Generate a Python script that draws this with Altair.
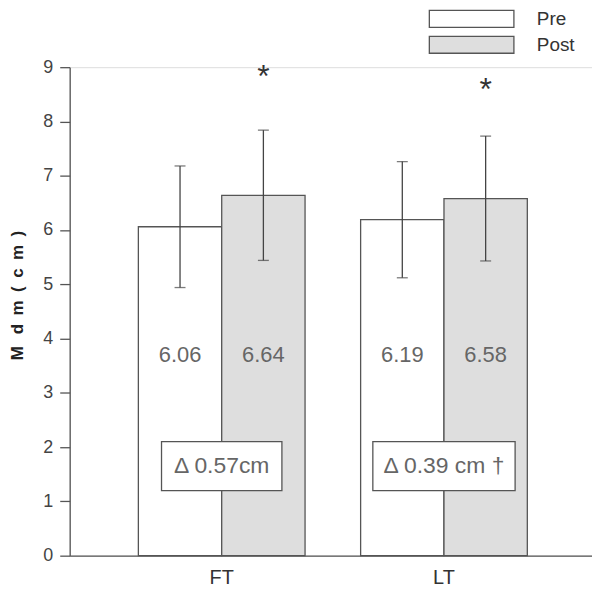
import altair as alt
import pandas as pd

categories = ["FT", "LT"]
phases = ["Pre", "Post"]
pre_means = [6.06, 6.19]
post_means = [6.64, 6.58]
pre_sd = [1.12, 1.07]
post_sd = [1.20, 1.15]
star_y = [8.85, 8.62]
delta_labels = ["\u0394 0.57cm", "\u0394 0.39 cm \u2020"]
delta_box = [1.2, 2.1]
delta_text_y = 1.65
value_label_y = 3.7
y_title = "M\u2002\u2009d\u2002m\u2002(\u2002c\u2002m\u2002)"

# style
box_widths_px = [121, 143]
FONT = "Liberation Sans"
GREY = "#555555"

rows = []
for i, c in enumerate(categories):
    for p, m, s in (("Pre", pre_means[i], pre_sd[i]), ("Post", post_means[i], post_sd[i])):
        rows.append({"cat": c, "phase": p, "mean": m, "lo": m - s, "hi": m + s,
                     "label": f"{m:.2f}", "ly": value_label_y})
df = pd.DataFrame(rows)

stars = pd.DataFrame({"cat": categories, "phase": ["Post", "Post"], "y": star_y, "t": ["*", "*"]})
boxes = pd.DataFrame({"cat": categories, "y0": [delta_box[0]] * 2, "y1": [delta_box[1]] * 2,
                      "w": box_widths_px, "t": delta_labels, "ty": [delta_text_y] * 2})

xenc = alt.X("cat:N", sort=categories, title=None,
             scale=alt.Scale(paddingInner=0.25, paddingOuter=0.3, align=0.515),
             axis=alt.Axis(labelAngle=0, ticks=False, labelPadding=12, labelFontSize=20,
                           labelFont=FONT, labelColor="#333333", domainColor=GREY,
                           domainWidth=1.3))
xoff = alt.XOffset("phase:N", sort=phases, scale=alt.Scale(paddingInner=0, paddingOuter=0))
yscale = alt.Scale(domain=[0, 9], nice=False)

bars = alt.Chart(df).mark_bar(stroke=GREY, strokeWidth=1.3).encode(
    x=xenc,
    xOffset=xoff,
    y=alt.Y("mean:Q", scale=yscale, title=y_title,
            axis=alt.Axis(values=list(range(10)), format="d", grid=False, tickSize=10,
                          labelPadding=7, labelFontSize=18, labelFont=FONT,
                          labelColor="#444444", domainColor=GREY, tickColor=GREY,
                          domainWidth=1.3, tickWidth=1.3,
                          titleFont=FONT, titleFontSize=17, titleFontWeight="bold",
                          titleColor="#222222", titleAngle=270, titleX=-52, titleY=229,
                          titleAlign="center", titleBaseline="middle")),
    fill=alt.Fill("phase:N", sort=phases,
                  scale=alt.Scale(domain=phases, range=["#ffffff", "#dedede"]),
                  legend=alt.Legend(title=None, orient="none", legendX=394.5, legendY=-58,
                                    symbolType="M-5,-1L5,-1L5,1L-5,1Z", symbolSize=289,
                                    symbolStrokeColor=GREY, symbolStrokeWidth=1.3,
                                    labelFontSize=19, labelFont=FONT, labelColor="#333333",
                                    labelOffset=56, rowPadding=3, padding=0)),
)

err = alt.Chart(df).mark_rule(color="#444444", strokeWidth=1.3).encode(
    x=alt.X("cat:N", sort=categories), xOffset=xoff,
    y=alt.Y("lo:Q", scale=yscale), y2="hi:Q")
cap_hi = alt.Chart(df).mark_tick(color="#444444", thickness=1.3, size=11).encode(
    x=alt.X("cat:N", sort=categories), xOffset=xoff, y=alt.Y("hi:Q", scale=yscale))
cap_lo = alt.Chart(df).mark_tick(color="#444444", thickness=1.3, size=11).encode(
    x=alt.X("cat:N", sort=categories), xOffset=xoff, y=alt.Y("lo:Q", scale=yscale))

labels = alt.Chart(df).mark_text(fontSize=22, font=FONT, color="#666666", baseline="middle").encode(
    x=alt.X("cat:N", sort=categories), xOffset=xoff, y=alt.Y("ly:Q", scale=yscale), text="label:N")

star = alt.Chart(stars).mark_text(fontSize=32, font=FONT, color="#333333", baseline="middle", dy=2).encode(
    x=alt.X("cat:N", sort=categories), xOffset=xoff, y=alt.Y("y:Q", scale=yscale), text="t:N")

dbox = alt.Chart(boxes).mark_bar(fill="#ffffff", stroke=GREY, strokeWidth=1.3).encode(
    x=alt.X("cat:N", sort=categories), y=alt.Y("y0:Q", scale=yscale), y2="y1:Q",
    size=alt.Size("w:Q", scale=None, legend=None))
dtext = alt.Chart(boxes).mark_text(fontSize=23, font=FONT, color="#666666", baseline="middle").encode(
    x=alt.X("cat:N", sort=categories), y=alt.Y("ty:Q", scale=yscale), text="t:N")

chart = alt.layer(bars, err, cap_hi, cap_lo, labels, star, dbox, dtext).properties(
    width=525, height=491,
    autosize=alt.AutoSizeParams(type="none"),
    padding={"left": 62, "top": 58, "right": 0, "bottom": 30},
).configure_view(stroke=None).configure(background="white")

chart.save("out.html", embed_options={"renderer": "svg", "actions": False})
